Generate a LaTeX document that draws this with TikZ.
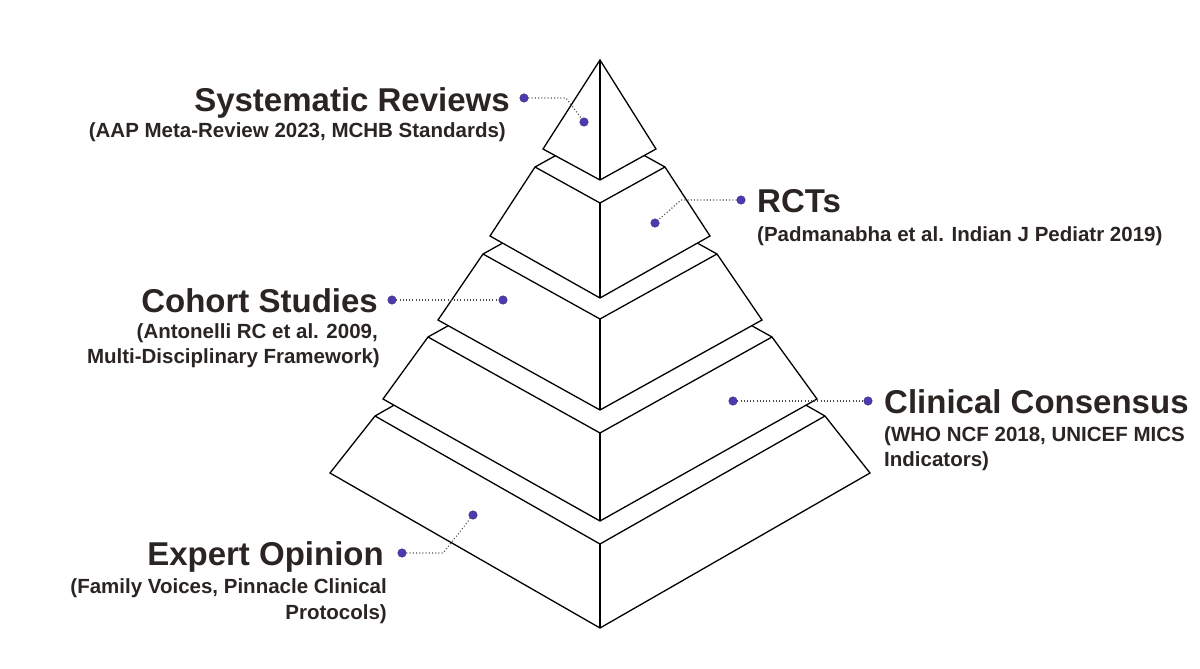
\documentclass[tikz,border=0pt]{standalone}
\usepackage{fontspec}
\setmainfont{Liberation Sans}
\definecolor{ink}{HTML}{2A2522}
\definecolor{dotc}{HTML}{4B3BB0}
\begin{document}
\begin{tikzpicture}[x=1pt,y=-1pt,
  edge/.style={draw=black,line width=1.3pt,line join=miter,fill=white},
  ln/.style={draw=black,line width=1.3pt},
  dot/.style={circle,fill=dotc,draw=dotc!70!black,line width=0.4pt,inner sep=0pt,minimum size=8.5pt},
  lead/.style={draw=gray!60!black,line width=1.2pt,dash pattern=on 1pt off 2.2pt},
  head/.style={font=\bfseries\fontsize{33}{35}\selectfont,text=ink,inner sep=0pt},
  sub/.style={font=\bfseries\fontsize{20.5}{22}\selectfont,text=ink,inner sep=0pt}]
\useasboundingbox (0,0) rectangle (1200,669);
\newcommand\pyrlayer[6]{%
  \path[edge] (600-#1,#2) -- (600,#2-#3) -- (600+#1,#2) -- (600+#4,#5) -- (600,#5+#6) -- (600-#4,#5) -- cycle;
  \draw[ln] (600-#1,#2) -- (600,#2+#3) -- (600+#1,#2);
  \draw[ln] (600,#2+#3) -- (600,#5+#6);}
\pyrlayer{225}{416}{128}{270}{473}{155}
\pyrlayer{172}{337}{96}{217}{399}{122}
\pyrlayer{117}{254}{65}{162}{320}{90}
\pyrlayer{65}{167}{36}{110}{236}{62}
\path[edge] (600,60) -- (656,149) -- (600,180) -- (543,149) -- cycle;
\draw[ln] (600,60) -- (600,180);
% dots and leaders
\node[dot] (s1) at (524,98) {}; \node[dot] (s2) at (584,122) {};
\coordinate (sk) at (566,98);
\draw[lead] (s1) -- (sk) -- (s2);
\node[dot] (r1) at (741,200) {}; \node[dot] (r2) at (655,223) {};
\coordinate (rk) at (681,200);
\draw[lead] (r1) -- (rk) -- (r2);
\node[dot] (c1) at (392,300) {}; \node[dot] (c2) at (503,300) {};
\draw[lead] (c1) -- (c2);
\node[dot] (k2) at (733,401) {}; \node[dot] (k1) at (868,401) {};
\draw[lead] (k2) -- (k1);
\node[dot] (e1) at (402,553) {}; \node[dot] (e2) at (473,515) {};
\coordinate (ek) at (443,553);
\draw[lead] (e1) -- (ek) -- (e2);
% labels
\node[head,anchor=base east] (sh) at (510,111) {Systematic Reviews};
\node[sub,anchor=base east] (ss) at (506,137) {(AAP Meta-Review 2023, MCHB Standards)};
\node[head,anchor=base west] (rh) at (757,212) {RCTs};
\node[sub,anchor=base west] (rs) at (757,241) {(Padmanabha et al. Indian J Pediatr 2019)};
\node[head,anchor=base east] (ch) at (378,312) {Cohort Studies};
\node[sub,anchor=base east] (cs1) at (378,338) {(Antonelli RC et al. 2009,};
\node[sub,anchor=base east] (cs2) at (380,363) {Multi-Disciplinary Framework)};
\node[head,anchor=base west] (kh) at (884,413) {Clinical Consensus};
\node[sub,anchor=base west] (ks1) at (884,441) {(WHO NCF 2018, UNICEF MICS};
\node[sub,anchor=base west] (ks2) at (884,466) {Indicators)};
\node[head,anchor=base east] (eh) at (384,565) {Expert Opinion};
\node[sub,anchor=base east] (es1) at (387,593) {(Family Voices, Pinnacle Clinical};
\node[sub,anchor=base east] (es2) at (387,619) {Protocols)};
\end{tikzpicture}
\end{document}
